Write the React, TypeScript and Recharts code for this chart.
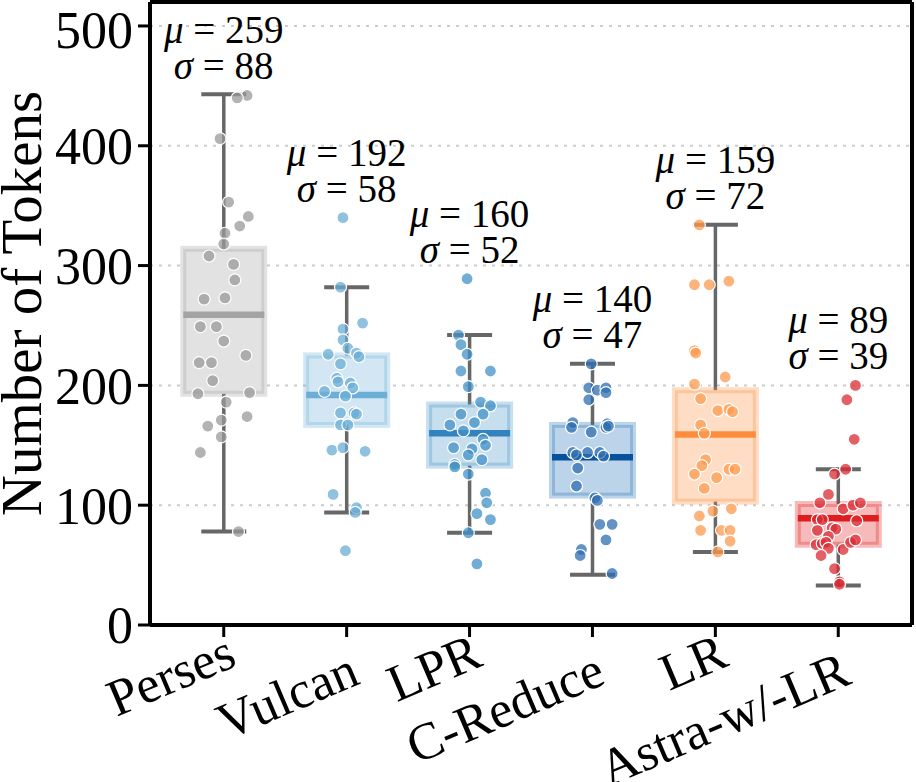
import { ComposedChart, Bar, Scatter, XAxis, YAxis, CartesianGrid, ReferenceLine } from 'recharts'

const categories = ['Perses', 'Vulcan', 'LPR', 'C-Reduce', 'LR', 'Astra-w/-LR']
const means = [259, 192, 160, 140, 159, 89]
const sds = [88, 58, 52, 47, 72, 39]
const q1 = [193, 167, 133, 108, 103, 67]
const q3 = [314, 225, 184, 167, 196, 101]
const whiskerLow = [78, 94, 77, 42, 61, 33]
const whiskerHigh = [443, 282, 242, 218, 334, 130]
const yTicks = [0, 100, 200, 300, 400, 500]

// token counts per method, with the horizontal jitter (category units)
const persesVals = [442, 440, 406, 353, 341, 333, 327, 318, 308, 301, 288, 273, 272, 249, 249, 237, 225, 219, 219, 204, 194, 193, 186, 174, 171, 166, 157, 144, 78]
const persesJit = [0.19, 0.11, -0.03, 0.04, 0.2, 0.13, 0.01, 0, -0.12, 0.08, 0.09, 0.01, -0.16, -0.19, -0.06, 0, 0.18, -0.2, -0.1, -0.09, 0.21, -0.21, 0.02, 0.19, -0.02, -0.13, -0.02, -0.19, 0.12]
const vulcanVals = [340, 282, 252, 247, 238, 231, 226, 227, 224, 218, 206, 203, 202, 198, 195, 191, 177, 177, 176, 167, 167, 146, 148, 145, 109, 98, 94, 62]
const vulcanJit = [-0.03, -0.05, 0.13, -0.03, -0.03, 0.01, -0.15, 0.08, 0.1, -0.05, -0.08, -0.07, 0.03, 0.05, -0.18, -0.01, -0.05, 0.06, 0.08, -0.05, 0.01, -0.12, -0.03, 0.15, -0.11, 0.08, 0.07, -0.01]
const lprVals = [289, 242, 234, 226, 212, 212, 199, 186, 183, 176, 176, 169, 167, 162, 155, 150, 148, 147, 142, 138, 134, 132, 126, 110, 102, 93, 88, 77, 51]
const lprJit = [-0.02, -0.09, -0.07, -0.02, -0.07, 0.17, -0.01, 0.09, 0.17, -0.07, 0.11, 0.04, -0.16, -0.05, 0.11, 0.13, -0.13, 0.02, -0.01, 0.1, -0.12, -0.12, -0.01, 0.13, 0.14, 0.06, 0.17, -0.01, 0.06]
const creduceVals = [218, 198, 196, 198, 194, 188, 169, 165, 168, 165, 166, 161, 144, 144, 144, 141, 142, 131, 116, 106, 104, 84, 84, 71, 63, 58, 43]
const creduceJit = [-0.01, -0.03, 0.04, 0.11, 0.11, -0.03, -0.16, -0.17, 0.12, 0.11, 0.13, -0.01, -0.16, -0.04, 0.06, 0.09, -0.13, -0.12, -0.13, 0.02, 0.04, 0.06, 0.16, 0.11, -0.09, -0.1, 0.16]
const lrVals = [334, 284, 284, 287, 229, 227, 207, 201, 189, 179, 180, 178, 167, 160, 138, 133, 126, 123, 130, 130, 114, 95, 97, 91, 79, 79, 79, 70, 61]
const lrJit = [-0.13, -0.17, -0.05, 0.11, -0.17, -0.16, 0.08, -0.17, -0.12, 0.02, 0.11, 0.14, -0.12, -0.09, -0.08, -0.11, -0.17, 0.01, 0.11, 0.16, -0.09, -0.02, 0.13, -0.13, -0.12, 0.05, 0.12, 0.12, 0.02]
const astraVals = [200, 188, 155, 130, 126, 109, 102, 97, 100, 102, 87, 88, 88, 79, 81, 80, 74, 67, 68, 69, 64, 58, 63, 69, 71, 47, 36, 34]
const astraJit = [0.14, 0.07, 0.13, 0.06, -0.03, -0.08, -0.15, 0.04, 0.12, 0.18, 0.15, -0.17, -0.13, -0.17, -0.05, -0.02, -0.08, -0.18, -0.13, -0.1, -0.08, -0.14, 0.04, 0.1, 0.14, -0.03, 0.01, 0.01]

const allVals = [persesVals, vulcanVals, lprVals, creduceVals, lrVals, astraVals]
const allJit = [persesJit, vulcanJit, lprJit, creduceJit, lrJit, astraJit]

const pointColors = ['#9a9a9a', '#6baed6', '#4292c6', '#2f6fb0', '#fd9a4e', '#d92b33']
const boxColors = ['#a0a0a0', '#6baed6', '#4292c6', '#2171b5', '#fd8d3c', '#e31a1c']
const centerColors = ['#a3a3a3', '#6baed6', '#3182bd', '#08519c', '#fd8d3c', '#de1e1e']

const FONT = '"Liberation Serif", "Times New Roman", serif'
const W = 916
const H = 782
const LEFT = 150
const RIGHT = 4
const plotW = W - LEFT - RIGHT
const catPad = plotW * 0.1 / 6.2

const boxRows = categories.map((name, i) => ({
    name,
    idx: i,
    range: [whiskerLow[i], whiskerHigh[i]],
    q1: q1[i],
    q3: q3[i],
    center: means[i],
}))

const pointSets = allVals.map((vals, i) => vals.map((v, k) => ({ x: i + allJit[i][k], y: v })))

const notes = categories.map((_, i) => ({ x: i, y: Math.max(...allVals[i]), mu: means[i], sd: sds[i] }))

function BoxShape(props: any) {
    const { x, y, width, height, payload } = props
    const [lo, hi] = payload.range
    const per = height / (hi - lo)
    const toPx = (v: number) => y + (hi - v) * per
    const cx = x + width / 2
    const capHalf = 22.5
    const c = boxColors[payload.idx]
    const top = toPx(payload.q3)
    const bot = toPx(payload.q1)
    const mid = toPx(payload.center)
    return (
        <g>
            <line x1={cx} x2={cx} y1={y} y2={y + height} stroke="#676767" strokeWidth={3.5} />
            <line x1={cx - capHalf} x2={cx + capHalf} y1={y} y2={y} stroke="#676767" strokeWidth={4} />
            <line x1={cx - capHalf} x2={cx + capHalf} y1={y + height} y2={y + height} stroke="#676767" strokeWidth={4} />
            <rect x={x} y={top} width={width} height={bot - top} fill="#ffffff" />
            <rect x={x} y={top} width={width} height={bot - top} fill={c} fillOpacity={0.3}
                stroke={c} strokeOpacity={0.3} strokeWidth={6} />
            <line x1={x} x2={x + width} y1={mid} y2={mid} stroke={centerColors[payload.idx]} strokeWidth={6.5} />
        </g>
    )
}

function makeDot(color: string) {
    return (props: any) => (
        <circle cx={props.cx} cy={props.cy} r={6} fill={color} fillOpacity={0.75} stroke="#ffffff" strokeWidth={1.2} />
    )
}

function NoteShape(props: any) {
    const { cx, cy, payload } = props
    return (
        <g fontFamily={FONT} fontSize={39} fill="#000">
            <text x={cx} y={cy - 52} textAnchor="middle">
                <tspan fontStyle="italic">μ</tspan>{' = '}{payload.mu}
            </text>
            <text x={cx} y={cy - 16} textAnchor="middle">
                <tspan fontStyle="italic">σ</tspan>{' = '}{payload.sd}
            </text>
        </g>
    )
}

function XTick(props: any) {
    const { x, y, payload } = props
    const i = payload.value
    const ax = x + 15
    const ay = y + (i % 2 === 0 ? 28 : 46)
    return (
        <text x={ax} y={ay} textAnchor="end" transform={`rotate(-23, ${ax}, ${ay})`}
            fontSize={52} fontFamily={FONT} fill="#000">
            {categories[i]}
        </text>
    )
}

function YLabel(props: any) {
    const vb = props.viewBox || { x: 0, y: 0, width: LEFT, height: 620 }
    const lx = 41
    const ly = vb.y + vb.height / 2 - 10
    return (
        <text x={lx} y={ly} textAnchor="middle" transform={`rotate(-90, ${lx}, ${ly})`}
            fontSize={57} fontFamily={FONT} fill="#000">
            Number of Tokens
        </text>
    )
}

export default function App() {
    return (
        <div style={{ position: 'absolute', left: 0, top: 0, width: W, height: H, background: '#fff' }}>
            <ComposedChart width={W} height={H} data={boxRows} margin={{ top: 2, right: RIGHT, bottom: 0, left: 0 }}>
                <CartesianGrid xAxisId="num" vertical={false} stroke="#cccccc" strokeWidth={2} strokeDasharray="3 6" />
                <XAxis
                    xAxisId="num"
                    dataKey="x"
                    type="number"
                    domain={[-0.6, 5.6]}
                    allowDataOverflow
                    ticks={[0, 1, 2, 3, 4, 5]}
                    interval={0}
                    height={157}
                    tickSize={12}
                    tickMargin={0}
                    axisLine={{ stroke: '#000', strokeWidth: 4 }}
                    tickLine={{ stroke: '#000', strokeWidth: 3 }}
                    tick={<XTick />}
                />
                <XAxis xAxisId="cat" dataKey="name" type="category" hide height={0} padding={{ left: catPad, right: catPad }} />
                <YAxis
                    type="number"
                    dataKey="y"
                    domain={[0, 520]}
                    allowDataOverflow
                    ticks={yTicks}
                    width={LEFT}
                    tickSize={12}
                    tickMargin={5}
                    axisLine={{ stroke: '#000', strokeWidth: 4 }}
                    tickLine={{ stroke: '#000', strokeWidth: 3 }}
                    tick={{ fill: '#000', fontSize: 52, fontFamily: FONT }}
                    label={<YLabel />}
                />
                <Bar xAxisId="cat" dataKey="range" barSize={81} shape={<BoxShape />} isAnimationActive={false} />
                {pointSets.map((pts, i) => (
                    <Scatter key={categories[i]} xAxisId="num" data={pts} shape={makeDot(pointColors[i])} isAnimationActive={false} />
                ))}
                <Scatter xAxisId="num" data={notes} shape={<NoteShape />} isAnimationActive={false} />
                <ReferenceLine xAxisId="num" y={520} stroke="#000" strokeWidth={4} />
                <ReferenceLine xAxisId="num" x={5.6} stroke="#000" strokeWidth={4} />
            </ComposedChart>
        </div>
    )
}
